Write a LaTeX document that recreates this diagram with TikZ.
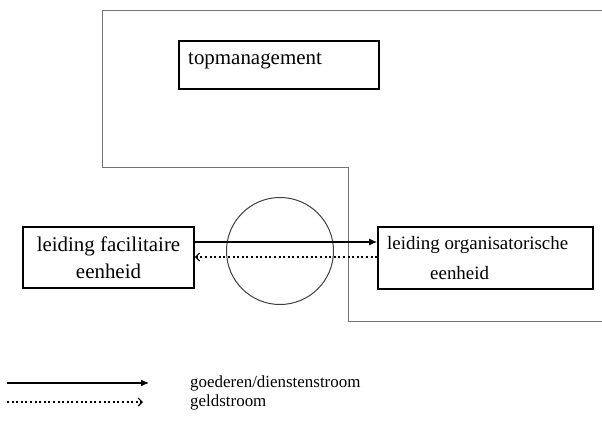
\documentclass[tikz,border=0pt]{standalone}
\usepackage{fontspec}
\setmainfont{Liberation Serif}
\usetikzlibrary{arrows.meta}
\begin{document}
\begin{tikzpicture}[x=1bp,y=-1bp,
  unitbox/.style={draw=black,line width=1.6bp,rectangle,inner sep=0pt},
  bigtext/.style={inner sep=0pt,font=\fontsize{21}{27}\selectfont},
  midtext/.style={inner sep=0pt,font=\fontsize{19}{27}\selectfont},
  legtext/.style={inner sep=0pt,anchor=west,font=\fontsize{17}{20}\selectfont},
  goods/.style={line width=1.3bp,-{Latex[length=8bp,width=7bp]}},
  money/.style={line width=1.1bp,dash pattern=on 2bp off 2.6bp,-{Straight Barb[length=4bp,width=8bp,line width=1.1bp]}},
  outline/.style={draw=black!55,line width=0.9bp}]
\useasboundingbox (0,0) rectangle (602,426);
\fill[white] (0,0) rectangle (602,426);

% boundary of the organisational unit
\draw[outline] (602,10) -- (102,10) -- (102,167) -- (348,167) -- (348,321) -- (602,321);

% top management
\node[unitbox,minimum width=200bp,minimum height=48bp] (top) at (279,65) {};
\node[bigtext,anchor=west] (toptxt) at (188,61) {topmanagement};

% exchange zone
\node[draw=black!75,line width=1bp,circle,minimum size=107bp,inner sep=0pt] (zone) at (280,251) {};

% facility unit
\node[unitbox,minimum width=171bp,minimum height=61bp,align=center,bigtext] (fac) at (108.5,257.5) {leiding facilitaire\\eenheid};

% organisational unit
\node[unitbox,minimum width=215bp,minimum height=62bp] (org) at (485.5,258) {};
\node[midtext,anchor=west] (orgtxt1) at (387,245) {leiding organisatorische};
\node[midtext,anchor=west] (orgtxt2) at (430,273) {eenheid};

% flows between the units
\draw[goods] ([yshift=15.5bp]fac.east) -- ([yshift=16bp]org.west);
\draw[money] ([yshift=1bp]org.west) -- ([yshift=0.5bp]fac.east);

% legend
\coordinate (ga) at (7,383);
\coordinate (gb) at (149,383);
\coordinate (ma) at (7,402);
\coordinate (mb) at (143,402);
\draw[goods] (ga) -- (gb);
\draw[money] (ma) -- (mb);
\node[legtext] (gtxt) at (190,383) {goederen/dienstenstroom};
\node[legtext] (mtxt) at (190,402) {geldstroom};
\end{tikzpicture}
\end{document}
